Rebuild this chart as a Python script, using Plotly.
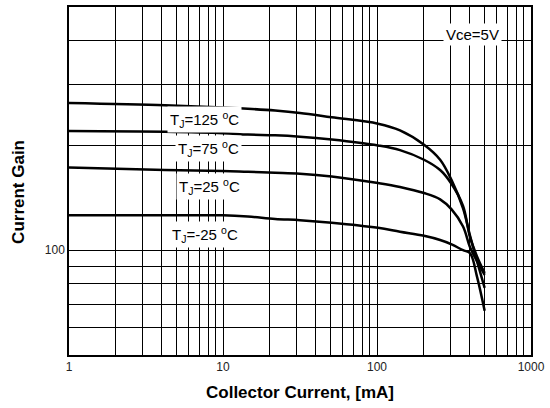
import math
import plotly.graph_objects as go

# Collector current (mA) sample points
ic = [1, 4.2, 10, 14.5, 21.8, 31.6, 50.8, 101.5, 141, 202, 257, 305, 362, 402, 446, 500]

# Current gain for each junction temperature
hfe_125 = [265, 261, 257, 255, 252, 248, 241, 231, 221, 201, 182, 159, 132, 110, 93, 78]
hfe_75 = [220, 219, 217, 215, 214, 212, 208, 200, 194, 182, 170, 155, 134, 109, 96, 86]
hfe_25 = [173, 170, 169, 168, 167, 166, 163, 156, 152, 146, 140, 131, 117, 102, 93, 85]
hfe_m25 = [126, 126, 126, 125, 123, 122, 120, 116, 113, 110, 107, 104, 100, 98, 84, 67]

labels = ["T<sub>J</sub>=125 <sup>o</sup>C", "T<sub>J</sub>=75 <sup>o</sup>C",
          "T<sub>J</sub>=25 <sup>o</sup>C", "T<sub>J</sub>=-25 <sup>o</sup>C"]
label_x = [7.6, 8.1, 8.2, 7.6]
label_y = [237, 196, 152, 111]
note_text = "Vce=5V"
note_x, note_y = 414, 417

x_major = [1, 10, 100, 1000]
x_minor = [2, 3, 4, 5, 6, 7, 8, 9, 20, 30, 40, 50, 60, 70, 80, 90,
           200, 300, 400, 500, 600, 700, 800, 900]
y_major = [100]
y_minor = [50, 60, 70, 80, 90, 200, 300, 400, 500]

FONT = "Arial, Liberation Sans"

fig = go.Figure()
for vals in (hfe_125, hfe_75, hfe_25, hfe_m25):
    fig.add_trace(go.Scatter(x=ic, y=vals, mode="lines",
                             line=dict(color="black", width=2.5, shape="spline", smoothing=1.0),
                             showlegend=False, hoverinfo="skip"))

for txt, lx, ly in zip(labels, label_x, label_y):
    fig.add_annotation(x=math.log10(lx), y=math.log10(ly), xref="x", yref="y", text=txt,
                       showarrow=False, xanchor="center", yanchor="middle", bgcolor="white",
                       font=dict(family=FONT, size=15, color="black"), borderpad=2)

fig.add_annotation(x=math.log10(note_x), y=math.log10(note_y), xref="x", yref="y", text=note_text,
                   showarrow=False, xanchor="center", yanchor="middle", bgcolor="white",
                   font=dict(family=FONT, size=15, color="black"), borderpad=2)

# Axis titles
fig.add_annotation(x=0.5, y=-0.109, xref="paper", yref="paper", text="<b>Collector Current, [mA]</b>",
                   showarrow=False, xanchor="center", yanchor="middle",
                   font=dict(family=FONT, size=17, color="black"))
fig.add_annotation(x=-0.108, y=0.469, xref="paper", yref="paper", text="<b>Current Gain</b>",
                   showarrow=False, xanchor="center", yanchor="middle", textangle=-90,
                   font=dict(family=FONT, size=17, color="black"))

fig.update_layout(
    width=550, height=408,
    margin=dict(l=69, r=18, t=5, b=53),
    paper_bgcolor="white", plot_bgcolor="white",
    font=dict(family=FONT, color="black"),
)
fig.update_xaxes(type="log", range=[0, 3], tickvals=x_major, ticktext=[str(v) for v in x_major],
                 showgrid=True, gridcolor="black", gridwidth=1,
                 minor=dict(tickvals=x_minor, showgrid=True, gridcolor="black", gridwidth=1, ticks=""),
                 showline=True, linecolor="black", linewidth=1.5, mirror=True,
                 ticks="", tickfont=dict(size=12, color="#222"), zeroline=False)
fig.update_yaxes(type="log", range=[math.log10(50), math.log10(500)], tickvals=y_major,
                 ticktext=[str(v) for v in y_major],
                 showgrid=True, gridcolor="black", gridwidth=1,
                 minor=dict(tickvals=y_minor, showgrid=True, gridcolor="black", gridwidth=1, ticks=""),
                 showline=True, linecolor="black", linewidth=1.5, mirror=True,
                 ticks="", tickfont=dict(size=12, color="#222"), zeroline=False)

fig.write_html("out.html")
